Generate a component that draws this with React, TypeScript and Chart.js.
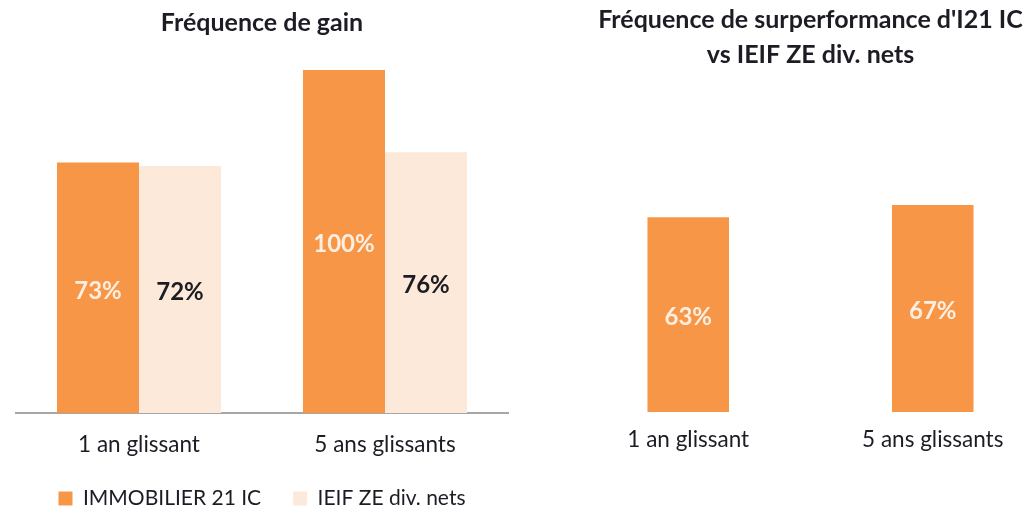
import React, { useEffect, useRef } from "react";
import { Chart, registerables } from "chart.js";

Chart.register(...registerables);

const categories = ["1 an glissant", "5 ans glissants"];
const seriesNames = ["IMMOBILIER 21 IC", "IEIF ZE div. nets"];
const gainI21 = [73, 100];
const gainIEIF = [72, 76];
const outperf = [63, 67];

const leftTitle = "Fréquence de gain";
const rightTitle = ["Fréquence de surperformance d'I21 IC", "vs IEIF ZE div. nets"];

const ORANGE = "#F79646";
const PEACH = "#FDE9DA";
const TEXT = "#1c1c24";
const FONT = "Lato";

const dataLabelPlugin = {
  id: "dataLabels",
  afterDatasetsDraw(chart: any) {
    const ctx = chart.ctx;
    chart.data.datasets.forEach((ds: any, di: number) => {
      const meta = chart.getDatasetMeta(di);
      meta.data.forEach((bar: any, i: number) => {
        const { x, y, base } = bar.getProps(["x", "y", "base"], true);
        ctx.save();
        ctx.fillStyle = ds.labelColor;
        ctx.font = `bold 24px ${FONT}`;
        ctx.textAlign = "center";
        ctx.textBaseline = "middle";
        ctx.fillText(`${ds.data[i]}%`, x, (y + base) / 2 + 3);
        ctx.restore();
      });
    });
  },
};

function useChart(ref: React.RefObject<HTMLCanvasElement | null>, make: () => any) {
  useEffect(() => {
    if (!ref.current) return;
    const chart = new Chart(ref.current, make());
    return () => chart.destroy();
  }, []);
}

export default function App() {
  const leftRef = useRef<HTMLCanvasElement>(null);
  const rightRef = useRef<HTMLCanvasElement>(null);

  useChart(leftRef, () => ({
    type: "bar",
    data: {
      labels: categories,
      datasets: [
        { label: seriesNames[0], data: gainI21, backgroundColor: ORANGE, labelColor: "#FDEEE2" },
        { label: seriesNames[1], data: gainIEIF, backgroundColor: PEACH, labelColor: TEXT },
      ],
    },
    options: {
      responsive: false,
      animation: false,
      layout: { padding: { left: 16, right: 12, top: 0, bottom: 0 } },
      datasets: { bar: { categoryPercentage: 0.667, barPercentage: 1 } },
      scales: {
        x: {
          grid: { display: false, drawTicks: false },
          border: { display: true, color: "#A6A6A6", width: 2 },
          ticks: { color: TEXT, font: { family: FONT, size: 22.5 }, padding: 18 },
          afterFit: (scale: any) => {
            scale.height -= 20;
          },
        },
        y: { display: false, min: 0, max: 100 },
      },
      plugins: {
        title: {
          display: true,
          text: leftTitle,
          color: TEXT,
          font: { family: FONT, size: 25, weight: "bold", lineHeight: 1.2 },
          padding: { top: 8, bottom: 32 },
        },
        legend: {
          position: "bottom",
          labels: { color: TEXT, font: { family: FONT, size: 21 }, boxWidth: 14, boxHeight: 14, padding: 32 },
        },
        tooltip: { enabled: false },
      },
    },
    plugins: [dataLabelPlugin],
  }));

  useChart(rightRef, () => ({
    type: "bar",
    data: {
      labels: categories,
      datasets: [{ label: seriesNames[0], data: outperf, backgroundColor: ORANGE, labelColor: "#FDEEE2" }],
    },
    options: {
      responsive: false,
      animation: false,
      layout: { padding: { left: 46, right: 43, top: 0, bottom: 39 } },
      datasets: { bar: { categoryPercentage: 0.667, barPercentage: 0.5 } },
      scales: {
        x: {
          grid: { display: false, drawTicks: false },
          border: { display: false },
          ticks: { color: TEXT, font: { family: FONT, size: 22.5 }, padding: 14 },
        },
        y: { display: false, min: 0, max: 100 },
      },
      plugins: {
        title: {
          display: true,
          text: rightTitle,
          color: TEXT,
          font: { family: FONT, size: 25, weight: "bold", lineHeight: 1.42 },
          padding: { top: 2, bottom: 30 },
        },
        legend: { display: false },
        tooltip: { enabled: false },
      },
    },
    plugins: [dataLabelPlugin],
  }));

  return (
    <div
      style={{
        position: "fixed",
        left: 0,
        top: 0,
        width: 1036,
        height: 506,
        overflow: "hidden",
        background: "#fff",
      }}
    >
      <canvas
        ref={leftRef}
        width={520}
        height={519}
        style={{ position: "absolute", left: 0, top: 0, width: 520, height: 519 }}
      />
      <canvas
        ref={rightRef}
        width={578}
        height={506}
        style={{ position: "absolute", left: 520, top: 0, width: 578, height: 506 }}
      />
    </div>
  );
}
